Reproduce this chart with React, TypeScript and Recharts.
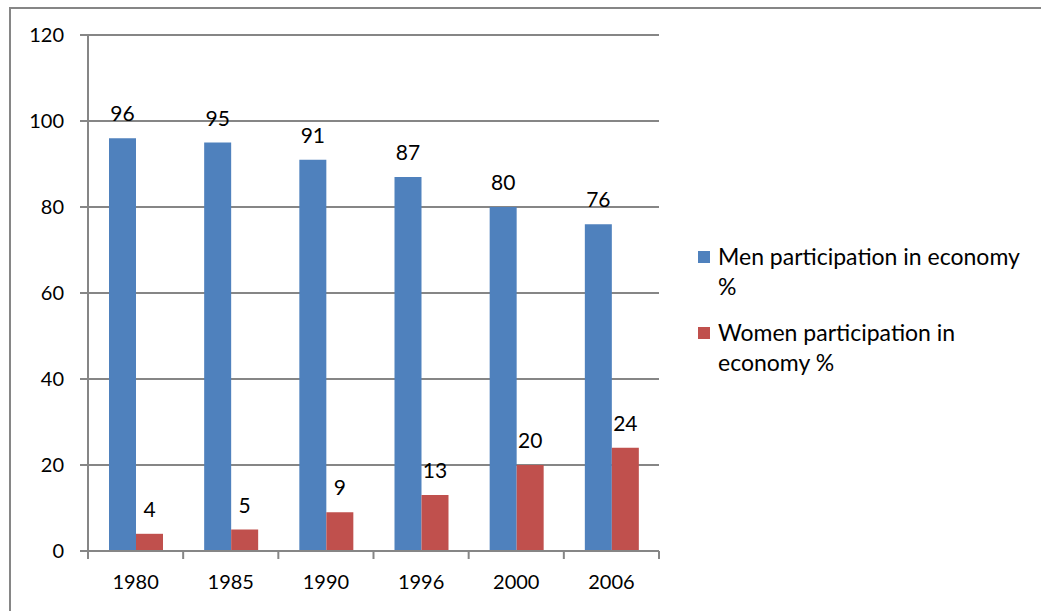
import { BarChart, Bar, XAxis, YAxis, CartesianGrid, LabelList } from "recharts"

const years = ["1980", "1985", "1990", "1996", "2000", "2006"]
const menValues = [96, 95, 91, 87, 80, 76]
const womenValues = [4, 5, 9, 13, 20, 24]
const yTicks = [0, 20, 40, 60, 80, 100, 120]

const FONT = "Lato, 'Open Sans', sans-serif"
const GRAY = "#868686"

const data = years.map((year, i) => ({
  year,
  men: menValues[i],
  women: womenValues[i],
}))

const PLOT_LEFT = 88
const PLOT_RIGHT = 659
const BAND = (PLOT_RIGHT - PLOT_LEFT) / years.length

function XTick(props: any) {
  const { x, y, payload, index } = props
  const left = x - BAND / 2
  return (
    <g>
      <line x1={left} y1={y - 8} x2={left} y2={y} stroke={GRAY} strokeWidth={2} />
      {index === years.length - 1 && (
        <line x1={left + BAND} y1={y - 8} x2={left + BAND} y2={y} stroke={GRAY} strokeWidth={2} />
      )}
      <text x={x} y={y + 30} textAnchor="middle" fontSize={20} fontFamily={FONT} fill="#000">
        {payload.value}
      </text>
    </g>
  )
}

function LegendBox() {
  const items = [
    { color: "#4F81BD", lines: ["Men participation in economy", "%"] },
    { color: "#C0504D", lines: ["Women participation in", "economy %"] },
  ]
  return (
    <div
      style={{
        position: "absolute",
        left: 698,
        top: 241,
        width: 340,
        fontFamily: FONT,
        fontSize: 23,
        color: "#000",
        lineHeight: "30px",
      }}
    >
      {items.map((it, i) => (
        <div key={i} style={{ display: "flex", marginBottom: i === 0 ? 16 : 0 }}>
          <div style={{ width: 12, height: 12, background: it.color, marginTop: 10, marginRight: 8, flexShrink: 0 }} />
          <div>
            {it.lines.map((l, j) => (
              <div key={j}>{l}</div>
            ))}
          </div>
        </div>
      ))}
    </div>
  )
}

export default function App() {
  return (
    <div style={{ position: "absolute", left: 0, top: 0, width: 1041, height: 611, background: "#fff" }}>
      <div
        style={{
          position: "absolute",
          left: 9,
          top: 7,
          width: 1032,
          height: 604,
          borderLeft: `2px solid ${GRAY}`,
          borderTop: `2px solid ${GRAY}`,
        }}
      />
      <BarChart
        width={1041}
        height={611}
        data={data}
        margin={{ top: 35, right: 1041 - PLOT_RIGHT, bottom: 30, left: 10 }}
        barGap={0}
        barSize={27}
        style={{ position: "absolute", left: 0, top: 0 }}
      >
        <CartesianGrid vertical={false} stroke={GRAY} strokeWidth={2} />
        <XAxis
          dataKey="year"
          height={30}
          axisLine={{ stroke: GRAY, strokeWidth: 2 }}
          tickLine={false}
          tick={<XTick />}
          interval={0}
        />
        <YAxis
          width={78}
          domain={[0, 120]}
          ticks={yTicks}
          interval={0}
          axisLine={{ stroke: GRAY, strokeWidth: 2 }}
          tickLine={{ stroke: GRAY, strokeWidth: 2 }}
          tickSize={8}
          tickMargin={16}
          tick={{ fontSize: 20, fontFamily: FONT, fill: "#000" }}
        />
        <Bar dataKey="men" name="Men participation in economy %" fill="#4F81BD" isAnimationActive={false}>
          <LabelList dataKey="men" position="top" offset={17} fontSize={21} fontFamily={FONT} fill="#000" />
        </Bar>
        <Bar dataKey="women" name="Women participation in economy %" fill="#C0504D" isAnimationActive={false}>
          <LabelList dataKey="women" position="top" offset={17} fontSize={21} fontFamily={FONT} fill="#000" />
        </Bar>
      </BarChart>
      <LegendBox />
    </div>
  )
}
